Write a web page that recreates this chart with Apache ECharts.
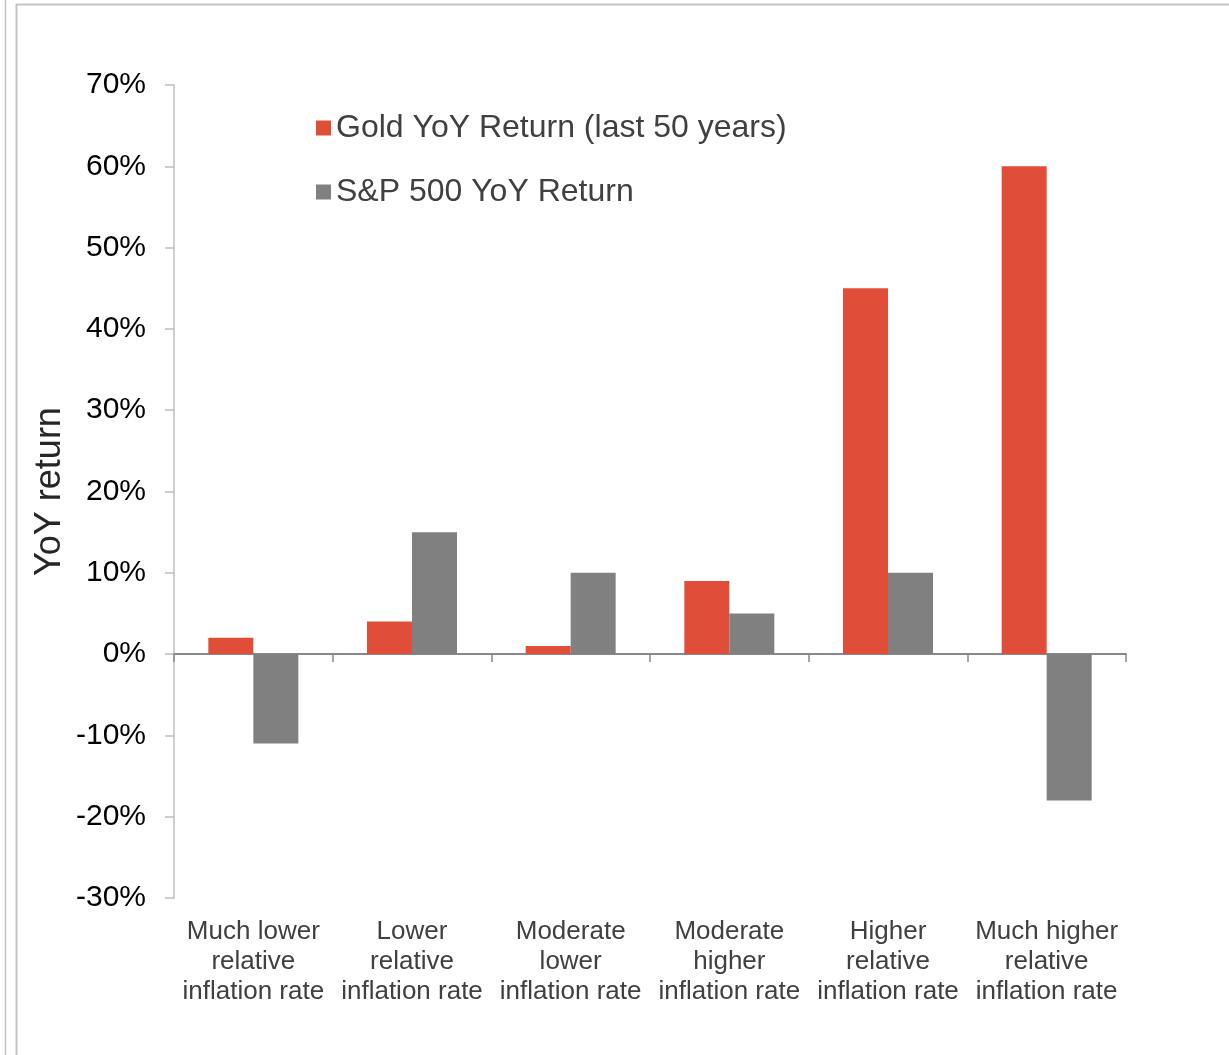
<!DOCTYPE html>
<html>
<head>
<meta charset="utf-8">
<script src="https://cdn.jsdelivr.net/npm/echarts@6/dist/echarts.min.js"></script>
<style>
  html, body { margin: 0; padding: 0; background: #fff; }
  #chart { width: 1229px; height: 1055px; }
</style>
</head>
<body>
<div id="chart"></div>
<script>
    var categories = [
        'Much lower\nrelative\ninflation rate',
        'Lower\nrelative\ninflation rate',
        'Moderate\nlower\ninflation rate',
        'Moderate\nhigher\ninflation rate',
        'Higher\nrelative\ninflation rate',
        'Much higher\nrelative\ninflation rate'
    ];
    var goldReturn = [2, 4, 1, 9, 45, 60];
    var spReturn = [-11, 15, 10, 5, 10, -18];
    var seriesNames = ['Gold YoY Return (last 50 years)', 'S&P 500 YoY Return'];

    var chart = echarts.init(document.getElementById('chart'));
    var font = 'Liberation Sans, Arial, sans-serif';

    var option = {
        animation: false,
        backgroundColor: '#fff',
        textStyle: { fontFamily: font },
        graphic: [
            { type: 'line', shape: { x1: 5.5, y1: 0, x2: 5.5, y2: 1055 }, style: { stroke: '#c4c4c4', lineWidth: 1.5 } },
            { type: 'polyline', shape: { points: [[16.5, 1055], [16.5, 4.5], [1229, 4.5]] }, style: { stroke: '#c4c4c4', lineWidth: 2, fill: null } }
        ],
        legend: {
            orient: 'vertical',
            left: 311,
            top: 107,
            itemWidth: 15,
            itemHeight: 15,
            itemGap: 32,
            icon: 'rect',
            textStyle: { fontSize: 32, color: '#404040', fontFamily: font },
            data: seriesNames
        },
        grid: { left: 174, right: 103, top: 85, bottom: 157, containLabel: false },
        xAxis: [
            {
                type: 'category',
                data: categories,
                axisLine: { onZero: true, lineStyle: { color: '#898989', width: 2 } },
                axisTick: { show: true, length: 8, lineStyle: { color: '#898989', width: 1.5 } },
                axisLabel: { show: false }
            },
            {
                type: 'category',
                data: categories,
                position: 'bottom',
                axisLine: { show: false },
                axisTick: { show: false },
                axisLabel: { fontSize: 26, lineHeight: 30, color: '#404040', margin: 19, interval: 0, fontFamily: font }
            }
        ],
        yAxis: {
            type: 'value',
            min: -30,
            max: 70,
            interval: 10,
            name: 'YoY return',
            nameLocation: 'middle',
            nameGap: 106,
            nameRotate: 90,
            nameMoveOverlap: false,
            nameTextStyle: { fontSize: 36, color: '#262626', fontFamily: font },
            axisLine: { show: true, lineStyle: { color: '#bfbfbf', width: 1.5 } },
            axisTick: { show: true, length: 9, lineStyle: { color: '#bfbfbf', width: 1.5 } },
            splitLine: { show: false },
            axisLabel: { formatter: '{value}%', fontSize: 30, color: '#000', margin: 28, fontFamily: font }
        },
        series: [
            {
                name: seriesNames[0],
                type: 'bar',
                data: goldReturn,
                barWidth: 45,
                barGap: '0%',
                itemStyle: { color: '#e04e39' }
            },
            {
                name: seriesNames[1],
                type: 'bar',
                data: spReturn,
                barWidth: 45,
                barGap: '0%',
                itemStyle: { color: '#808080' }
            }
        ]
    };
    chart.setOption(option);
</script>
</body>
</html>
